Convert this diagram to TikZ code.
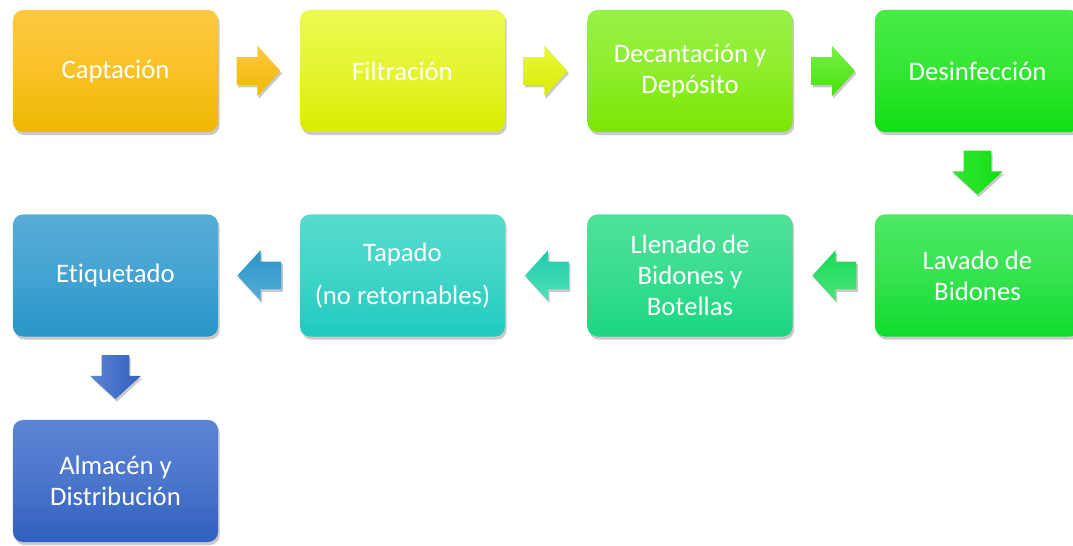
\documentclass[tikz,border=0pt]{standalone}
\usepackage{fontspec}
\setmainfont{Carlito}[Ligatures=CommonOff]
\usepackage{xcolor}
\usepackage{tikz}
\usetikzlibrary{calc}
\usetikzlibrary{shapes.arrows}
\usetikzlibrary{shadows}
\definecolor{captT}{RGB}{255,200,66}   \definecolor{captB}{RGB}{238,184,0}
\definecolor{filtT}{RGB}{236,250,80}   \definecolor{filtB}{RGB}{216,236,0}
\definecolor{decaT}{RGB}{152,242,72}   \definecolor{decaB}{RGB}{124,230,0}
\definecolor{desiT}{RGB}{72,236,72}    \definecolor{desiB}{RGB}{18,222,18}
\definecolor{lavaT}{RGB}{78,232,102}   \definecolor{lavaB}{RGB}{14,220,44}
\definecolor{llenT}{RGB}{78,226,152}   \definecolor{llenB}{RGB}{26,214,130}
\definecolor{tapaT}{RGB}{86,220,206}   \definecolor{tapaB}{RGB}{30,202,190}
\definecolor{etiqT}{RGB}{88,172,216}   \definecolor{etiqB}{RGB}{38,150,200}
\definecolor{almaT}{RGB}{92,132,212}   \definecolor{almaB}{RGB}{48,96,190}
\tikzstyle{stepbox}=[shape=rectangle, rounded corners=0.25cm, minimum width=5.125cm, minimum height=3.05cm, inner sep=2pt, align=center, text=white, font=\fontsize{19}{22}\selectfont, drop shadow={shadow xshift=1.2pt, shadow yshift=-2.2pt, fill=black!70, opacity=0.3}]
\tikzstyle{blockarrow}=[shape=single arrow, anchor=tail, single arrow head extend=0.29cm, single arrow head indent=0pt, single arrow tip angle=95, minimum height=1.1cm, inner xsep=0pt, inner ysep=0.3375cm, drop shadow={shadow xshift=1pt, shadow yshift=-1.8pt, fill=black!70, opacity=0.3}]

\begin{document}
\begin{tikzpicture}[x=0.025cm, y=0.025cm]
\useasboundingbox (0,0) rectangle (1073,546);
\node [stepbox, top color=captT, bottom color=captB, middle color=captB!40!captT] (capt) at (115.5,475) {Captación};
\node [stepbox, top color=filtT, bottom color=filtB, middle color=filtB!40!filtT] (filt) at (402.5,475) {Filtración};
\node [stepbox, top color=decaT, bottom color=decaB, middle color=decaB!40!decaT] (deca) at (690,475) {Decantación y\\Depósito};
\node [stepbox, top color=desiT, bottom color=desiB, middle color=desiB!40!desiT] (desi) at (977.5,475) {Desinfección};
\node [stepbox, top color=lavaT, bottom color=lavaB, middle color=lavaB!40!lavaT] (lava) at (977.5,270.5) {Lavado de\\Bidones};
\node [stepbox, top color=llenT, bottom color=llenB, middle color=llenB!40!llenT] (llen) at (690,270.5) {Llenado de\\Bidones y\\Botellas};
\node [stepbox, top color=tapaT, bottom color=tapaB, middle color=tapaB!40!tapaT] (tapa) at (402.5,270.5) {Tapado\\[9pt](no retornables)};
\node [stepbox, top color=etiqT, bottom color=etiqB, middle color=etiqB!40!etiqT] (etiq) at (115.5,270.5) {Etiquetado};
\node [stepbox, top color=almaT, bottom color=almaB, middle color=almaB!40!almaT] (alma) at (115.5,65) {Almacén y\\Distribución};

\node [blockarrow, top color=captT, bottom color=captB] (a1) at ($(capt.east)+(18,0)$) {};
\node [blockarrow, top color=filtT!80!filtB, bottom color=filtB] (a2) at ($(filt.east)+(18,0)$) {};
\node [blockarrow, top color=decaT!60!desiT, bottom color=decaB!50!desiB] (a3) at ($(deca.east)+(18,0)$) {};
\node [blockarrow, rotate=-90, left color=desiT!60!desiB, right color=desiB] (a4) at ($(desi.south)+(0,-18)$) {};
\node [blockarrow, rotate=180, top color=lavaB!50!llenB, bottom color=lavaT!60!llenT] (a5) at ($(lava.west)+(-18,0)$) {};
\node [blockarrow, rotate=180, top color=llenB!30!tapaB, bottom color=llenT!40!tapaT] (a6) at ($(llen.west)+(-18,0)$) {};
\node [blockarrow, rotate=180, top color=etiqB, bottom color=etiqT] (a7) at ($(tapa.west)+(-18,0)$) {};
\node [blockarrow, rotate=-90, left color=almaT, right color=almaB] (a8) at ($(etiq.south)+(0,-18)$) {};
\end{tikzpicture}
\end{document}
